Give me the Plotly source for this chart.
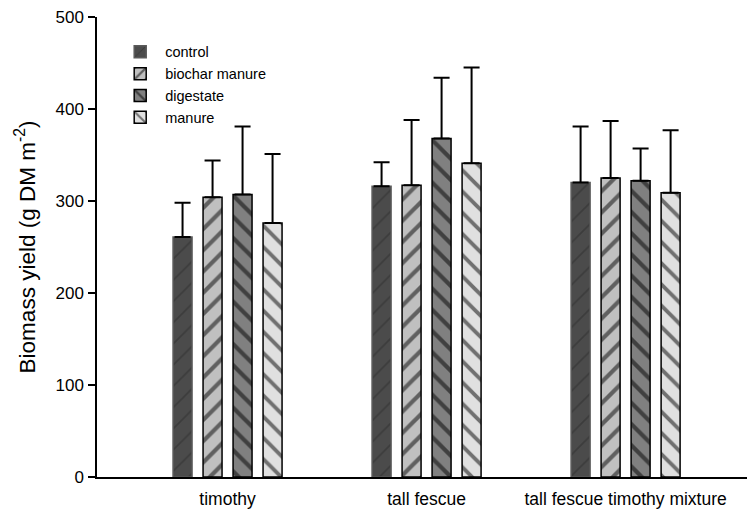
import plotly.graph_objects as go

categories = ["timothy", "tall fescue", "tall fescue timothy mixture"]
treatments = ["control", "biochar manure", "digestate", "manure"]
control = [261, 316, 320]
control_err = [37, 26, 61]
biochar_manure = [304, 317, 325]
biochar_manure_err = [40, 71, 62]
digestate = [307, 368, 322]
digestate_err = [74, 66, 35]
manure = [276, 341, 309]
manure_err = [75, 104, 68]
y_ticks = [0, 100, 200, 300, 400, 500]

values = [control, biochar_manure, digestate, manure]
errors = [control_err, biochar_manure_err, digestate_err, manure_err]
fills = ["#4b4b4b", "#c0c0c0", "#808080", "#e0e0e0"]
shapes = ["/", "/", "\\", "\\"]
pfg = ["#2e2e2e", "#000000", "#000000", "#000000"]
edge = ["#5a5a5a", "#000000", "#000000", "#000000"]
pw = [0.12, 0.28, 0.28, 0.26]

xs = list(range(len(categories)))
fig = go.Figure()
for i, name in enumerate(treatments):
    fig.add_trace(go.Bar(
        x=xs, y=values[i], name=name,
        marker=dict(color=fills[i],
                    line=dict(color=edge[i], width=1.5),
                    pattern=dict(shape=shapes[i], fgcolor=pfg[i], bgcolor=fills[i],
                                 size=15, solidity=pw[i], fillmode="overlay")),
        error_y=dict(type="data", array=errors[i], arrayminus=[0]*len(xs),
                     symmetric=False, color="#000000", thickness=2, width=8),
    ))

fig.update_layout(
    width=747, height=510,
    margin=dict(l=97, r=0, t=17, b=33),
    paper_bgcolor="white", plot_bgcolor="white",
    barmode="group", bargap=0.397, bargroupgap=0.367,
    font=dict(family="Liberation Sans, Arial, sans-serif", size=15, color="#000000"),
    showlegend=True,
    legend=dict(x=0.028, y=0.959, xanchor="left", yanchor="top",
                bgcolor="rgba(0,0,0,0)", font=dict(size=14.5), tracegroupgap=0,
                itemwidth=40),
    xaxis=dict(range=[-0.656, 2.61], tickvals=xs, ticktext=categories,
               showline=True, linecolor="#000000", linewidth=1.5,
               ticks="", showgrid=False, zeroline=False, tickfont=dict(size=17.5),
               ticklabelstandoff=5),
    yaxis=dict(range=[0, 500], tickvals=y_ticks, showline=True, linecolor="#000000",
               linewidth=1.5, ticks="outside", ticklen=7, tickwidth=1.5,
               tickcolor="#000000", showgrid=False, zeroline=False,
               tickfont=dict(size=17), ticklabelstandoff=1,
               title=dict(text="Biomass yield (g DM m<sup>-2</sup>)", font=dict(size=22.5),
                          standoff=14)),
)
fig.write_html("out.html", config={"displayModeBar": False},
               post_script="document.body.style.margin='0';document.body.style.overflow='hidden';")
